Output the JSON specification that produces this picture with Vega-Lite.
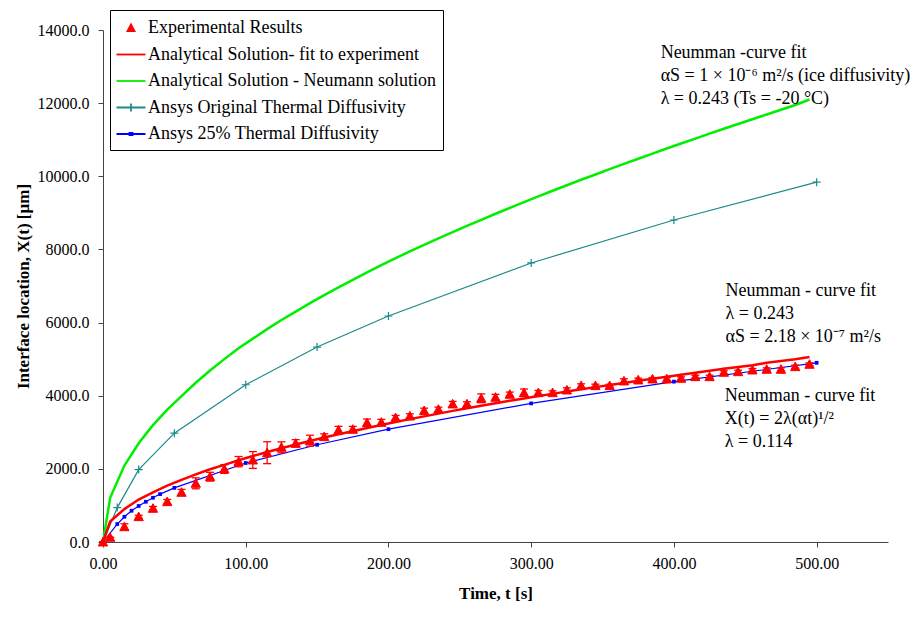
{
  "$schema": "https://vega.github.io/schema/vega-lite/v6.json",
  "width": 785,
  "height": 512,
  "autosize": "none",
  "padding": {"left": 103, "top": 30, "right": 33, "bottom": 80},
  "background": "white",
  "config": {
    "font": "Liberation Serif",
    "view": {"stroke": null},
    "axis": {"grid": false, "labelFlush": false, "labelFont": "Liberation Serif", "labelFontSize": 16, "labelColor": "#000", "titleFont": "Liberation Serif", "titleFontSize": 17, "titleFontWeight": "bold", "titleColor": "#000", "domainColor": "#444", "tickColor": "#444", "tickSize": 5},
    "legend": {"title": null, "orient": "none", "legendX": 7, "legendY": -20, "padding": 7, "strokeColor": "#000", "fillColor": "#fff",
      "labelFont": "Liberation Serif", "labelFontSize": 18, "labelColor": "#000", "symbolSize": 400, "symbolOffset": 3, "labelOffset": 6,
      "rowPadding": 6.5, "labelLimit": 400, "symbolStrokeWidth": 1.8, "symbolOpacity": 1}
  },
  "datasets": {
    "exp": [
      {"series": "Experimental Results", "t": 0, "X": 0, "err": 0},
      {"series": "Experimental Results", "t": 5, "X": 128, "err": 0},
      {"series": "Experimental Results", "t": 15, "X": 418, "err": 80},
      {"series": "Experimental Results", "t": 25, "X": 692, "err": 40},
      {"series": "Experimental Results", "t": 35, "X": 921, "err": 50},
      {"series": "Experimental Results", "t": 45, "X": 1103, "err": 60},
      {"series": "Experimental Results", "t": 55, "X": 1358, "err": 80},
      {"series": "Experimental Results", "t": 65, "X": 1605, "err": 150},
      {"series": "Experimental Results", "t": 75, "X": 1786, "err": 120},
      {"series": "Experimental Results", "t": 85, "X": 1996, "err": 120},
      {"series": "Experimental Results", "t": 95, "X": 2197, "err": 140},
      {"series": "Experimental Results", "t": 105, "X": 2242, "err": 230},
      {"series": "Experimental Results", "t": 115, "X": 2442, "err": 300},
      {"series": "Experimental Results", "t": 125, "X": 2589, "err": 150},
      {"series": "Experimental Results", "t": 135, "X": 2699, "err": 100},
      {"series": "Experimental Results", "t": 145, "X": 2770, "err": 150},
      {"series": "Experimental Results", "t": 155, "X": 2879, "err": 80},
      {"series": "Experimental Results", "t": 165, "X": 3062, "err": 100},
      {"series": "Experimental Results", "t": 175, "X": 3081, "err": 80},
      {"series": "Experimental Results", "t": 185, "X": 3262, "err": 100},
      {"series": "Experimental Results", "t": 195, "X": 3273, "err": 80},
      {"series": "Experimental Results", "t": 205, "X": 3399, "err": 60},
      {"series": "Experimental Results", "t": 215, "X": 3445, "err": 60},
      {"series": "Experimental Results", "t": 225, "X": 3590, "err": 70},
      {"series": "Experimental Results", "t": 235, "X": 3628, "err": 60},
      {"series": "Experimental Results", "t": 245, "X": 3774, "err": 70},
      {"series": "Experimental Results", "t": 255, "X": 3774, "err": 60},
      {"series": "Experimental Results", "t": 265, "X": 3929, "err": 120},
      {"series": "Experimental Results", "t": 275, "X": 3957, "err": 80},
      {"series": "Experimental Results", "t": 285, "X": 4039, "err": 60},
      {"series": "Experimental Results", "t": 295, "X": 4083, "err": 100},
      {"series": "Experimental Results", "t": 305, "X": 4083, "err": 60},
      {"series": "Experimental Results", "t": 315, "X": 4083, "err": 50},
      {"series": "Experimental Results", "t": 325, "X": 4156, "err": 60},
      {"series": "Experimental Results", "t": 335, "X": 4275, "err": 50},
      {"series": "Experimental Results", "t": 345, "X": 4275, "err": 40},
      {"series": "Experimental Results", "t": 355, "X": 4275, "err": 40},
      {"series": "Experimental Results", "t": 365, "X": 4403, "err": 60},
      {"series": "Experimental Results", "t": 375, "X": 4430, "err": 50},
      {"series": "Experimental Results", "t": 385, "X": 4457, "err": 40},
      {"series": "Experimental Results", "t": 395, "X": 4457, "err": 40},
      {"series": "Experimental Results", "t": 405, "X": 4476, "err": 40},
      {"series": "Experimental Results", "t": 415, "X": 4520, "err": 40},
      {"series": "Experimental Results", "t": 425, "X": 4520, "err": 40},
      {"series": "Experimental Results", "t": 435, "X": 4640, "err": 40},
      {"series": "Experimental Results", "t": 445, "X": 4657, "err": 40},
      {"series": "Experimental Results", "t": 455, "X": 4703, "err": 40},
      {"series": "Experimental Results", "t": 465, "X": 4722, "err": 40},
      {"series": "Experimental Results", "t": 475, "X": 4722, "err": 40},
      {"series": "Experimental Results", "t": 485, "X": 4794, "err": 40},
      {"series": "Experimental Results", "t": 495, "X": 4859, "err": 40}
    ],
    "fit": [
      {"t": 0, "X": 0}, {"t": 5, "X": 560}, {"t": 15, "X": 900}, {"t": 25, "X": 1160}, {"t": 35, "X": 1360},
      {"t": 45, "X": 1540}, {"t": 55, "X": 1700}, {"t": 65, "X": 1850}, {"t": 75, "X": 1990}, {"t": 85, "X": 2110},
      {"t": 95, "X": 2235}, {"t": 105, "X": 2350}, {"t": 115, "X": 2460}, {"t": 125, "X": 2565}, {"t": 135, "X": 2665},
      {"t": 145, "X": 2760}, {"t": 155, "X": 2855}, {"t": 165, "X": 2945}, {"t": 175, "X": 3030}, {"t": 185, "X": 3115},
      {"t": 195, "X": 3200}, {"t": 205, "X": 3280}, {"t": 215, "X": 3360}, {"t": 225, "X": 3435}, {"t": 235, "X": 3510},
      {"t": 245, "X": 3585}, {"t": 255, "X": 3655}, {"t": 265, "X": 3725}, {"t": 275, "X": 3795}, {"t": 285, "X": 3860},
      {"t": 295, "X": 3925}, {"t": 305, "X": 3990}, {"t": 315, "X": 4050}, {"t": 325, "X": 4115}, {"t": 335, "X": 4175},
      {"t": 345, "X": 4235}, {"t": 355, "X": 4295}, {"t": 365, "X": 4350}, {"t": 375, "X": 4410}, {"t": 385, "X": 4465},
      {"t": 395, "X": 4520}, {"t": 405, "X": 4575}, {"t": 415, "X": 4630}, {"t": 425, "X": 4680}, {"t": 435, "X": 4735},
      {"t": 445, "X": 4785}, {"t": 455, "X": 4835}, {"t": 465, "X": 4900}, {"t": 475, "X": 4950}, {"t": 485, "X": 5000},
      {"t": 495, "X": 5060}
    ],
    "neu": [
      {"t": 0, "X": 0}, {"t": 5, "X": 1207}, {"t": 15, "X": 2091}, {"t": 25, "X": 2700}, {"t": 35, "X": 3195},
      {"t": 45, "X": 3622}, {"t": 55, "X": 3990}, {"t": 65, "X": 4354}, {"t": 75, "X": 4690}, {"t": 85, "X": 5000},
      {"t": 95, "X": 5300}, {"t": 105, "X": 5560}, {"t": 115, "X": 5820}, {"t": 125, "X": 6070}, {"t": 135, "X": 6300},
      {"t": 145, "X": 6530}, {"t": 155, "X": 6750}, {"t": 165, "X": 6960}, {"t": 175, "X": 7170}, {"t": 185, "X": 7370},
      {"t": 195, "X": 7570}, {"t": 205, "X": 7760}, {"t": 215, "X": 7945}, {"t": 225, "X": 8125}, {"t": 235, "X": 8300},
      {"t": 245, "X": 8475}, {"t": 255, "X": 8645}, {"t": 265, "X": 8810}, {"t": 275, "X": 8975}, {"t": 285, "X": 9135},
      {"t": 295, "X": 9295}, {"t": 305, "X": 9450}, {"t": 315, "X": 9605}, {"t": 325, "X": 9755}, {"t": 335, "X": 9905},
      {"t": 345, "X": 10050}, {"t": 355, "X": 10195}, {"t": 365, "X": 10340}, {"t": 375, "X": 10480}, {"t": 385, "X": 10620},
      {"t": 395, "X": 10760}, {"t": 405, "X": 10895}, {"t": 415, "X": 11030}, {"t": 425, "X": 11165}, {"t": 435, "X": 11300},
      {"t": 445, "X": 11430}, {"t": 455, "X": 11560}, {"t": 465, "X": 11690}, {"t": 475, "X": 11820}, {"t": 485, "X": 11950},
      {"t": 495, "X": 12100}
    ],
    "ans1": [
      {"t": 0, "X": 0}, {"t": 10, "X": 940}, {"t": 25, "X": 1980}, {"t": 50, "X": 2975}, {"t": 100, "X": 4300},
      {"t": 150, "X": 5330}, {"t": 200, "X": 6180}, {"t": 300, "X": 7630}, {"t": 400, "X": 8805}, {"t": 500, "X": 9840}
    ],
    "ans2": [
      {"t": 0, "X": 0}, {"t": 10, "X": 490}, {"t": 15, "X": 690}, {"t": 20, "X": 855}, {"t": 25, "X": 985},
      {"t": 30, "X": 1100}, {"t": 35, "X": 1210}, {"t": 40, "X": 1310}, {"t": 50, "X": 1480}, {"t": 100, "X": 2160},
      {"t": 150, "X": 2660}, {"t": 200, "X": 3085}, {"t": 300, "X": 3790}, {"t": 400, "X": 4385}, {"t": 500, "X": 4900}
    ],
    "notes": [
      {"t": 390.7, "X": 13234, "label": "Neumman -curve fit\nαS = 1 × 10⁻⁶ m²/s (ice diffusivity)\nλ = 0.243 (Ts = -20 °C)"},
      {"t": 436.2, "X": 6727, "label": "Neumman  - curve fit\nλ = 0.243\nαS = 2.18 × 10⁻⁷ m²/s"},
      {"t": 435.7, "X": 3855, "label": "Neumman - curve fit\nX(t) = 2λ(αt)¹/²\nλ = 0.114"}
    ]
  },
  "encoding": {
    "x": {"field": "t", "type": "quantitative", "scale": {"domain": [0, 550], "nice": false, "zero": false},
      "axis": {"values": [0, 100, 200, 300, 400, 500], "format": ".2f", "title": "Time, t [s]", "labelPadding": 8, "titlePadding": 14}},
    "y": {"field": "X", "type": "quantitative", "scale": {"domain": [0, 14000], "nice": false},
      "axis": {"values": [0, 2000, 4000, 6000, 8000, 10000, 12000, 14000], "format": ".1f", "title": "Interface location, X(t) [µm]", "labelPadding": 9, "titlePadding": 5}}
  },
  "layer": [
    {"data": {"name": "neu"}, "mark": {"type": "line", "color": "#00ee00", "strokeWidth": 2.5}},
    {"data": {"name": "ans1"}, "mark": {"type": "line", "color": "#1a8a8a", "strokeWidth": 1.2}},
    {"data": {"name": "ans1"}, "mark": {"type": "point", "shape": "M-1,0L1,0M0,-1L0,1", "filled": false, "color": "#1a8a8a", "size": 64, "strokeWidth": 1.2, "opacity": 1}},
    {"data": {"name": "ans2"}, "mark": {"type": "line", "color": "#0000ff", "strokeWidth": 1.2}},
    {"data": {"name": "ans2"}, "mark": {"type": "square", "color": "#0000ff", "size": 14, "opacity": 1}},
    {"data": {"name": "fit"}, "mark": {"type": "line", "color": "#ff0000", "strokeWidth": 2.5}},
    {"data": {"name": "exp"}, "mark": {"type": "errorbar", "color": "#ff0000", "opacity": 1, "ticks": {"size": 8, "color": "#ff0000", "opacity": 1}, "thickness": 1.3},
      "encoding": {"y": {"field": "X", "type": "quantitative"}, "yError": {"field": "err"}}},
    {"data": {"name": "exp"},
      "mark": {"type": "point", "size": 700, "opacity": 1, "strokeWidth": 1},
      "encoding": {
        "fill": {"field": "series", "type": "nominal",
          "scale": {"domain": ["Experimental Results", "Analytical Solution- fit to experiment", "Analytical Solution - Neumann solution", "Ansys Original Thermal Diffusivity", "Ansys 25% Thermal Diffusivity"],
            "range": ["#ff0000", "transparent", "transparent", "transparent", "transparent"]}},
        "stroke": {"field": "series", "type": "nominal",
          "scale": {"domain": ["Experimental Results", "Analytical Solution- fit to experiment", "Analytical Solution - Neumann solution", "Ansys Original Thermal Diffusivity", "Ansys 25% Thermal Diffusivity"],
            "range": ["#ff0000", "#ff0000", "#00ee00", "#1a8a8a", "#0000ff"]}},
        "shape": {"field": "series", "type": "nominal",
          "scale": {"domain": ["Experimental Results", "Analytical Solution- fit to experiment", "Analytical Solution - Neumann solution", "Ansys Original Thermal Diffusivity", "Ansys 25% Thermal Diffusivity"],
            "range": ["M0,-0.35L0.35,0.3L-0.35,0.3Z", "M-1.45,0L1.45,0", "M-1.45,0L1.45,0", "M-1.45,0L1.45,0M0,-0.4L0,0.4", "M-1.45,0L1.45,0M-0.15,-0.12L0.15,-0.12L0.15,0.12L-0.15,0.12Z"]}}
      }},
    {"data": {"name": "notes"}, "mark": {"type": "text", "align": "left", "baseline": "alphabetic", "lineBreak": "\n", "lineHeight": 23, "font": "Liberation Serif", "fontSize": 18, "color": "#000"},
      "encoding": {"text": {"field": "label"}}}
  ]
}
